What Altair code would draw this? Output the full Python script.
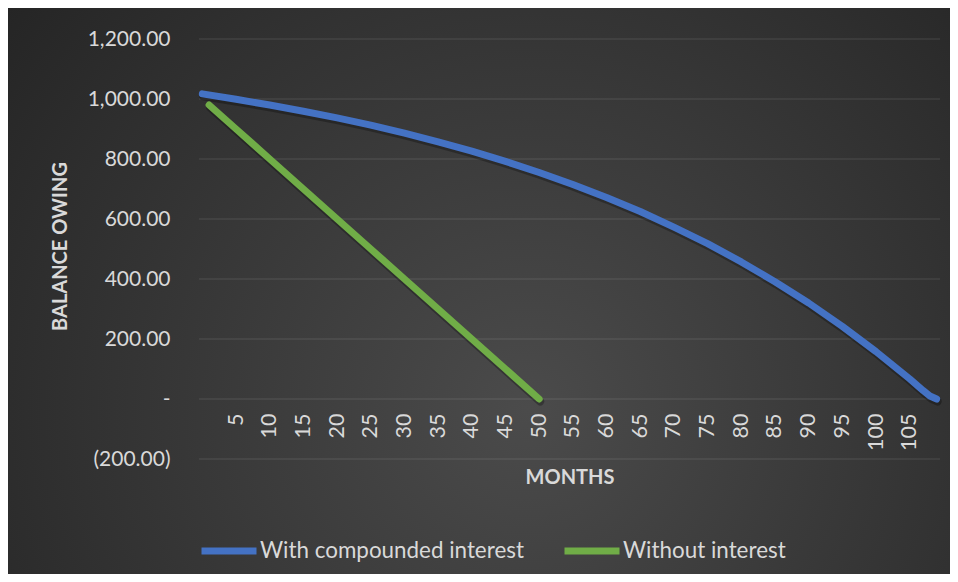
import altair as alt
import pandas as pd

# ---- data ----
series_names = ["With compounded interest", "Without interest"]

comp_months = [0, 5, 10, 15, 20, 25, 30, 35, 40, 45, 50, 55, 60, 65, 70, 75,
               80, 85, 90, 95, 100, 105, 107, 108, 109]
comp_balance = [1017, 999, 980, 959, 937, 913, 886, 857, 826, 792, 755, 715,
                672, 625, 573, 518, 457, 391, 320, 242, 158, 67, 28, 10, 0]

flat_months = [1, 5, 10, 15, 20, 25, 30, 35, 40, 45, 50]
flat_balance = [980, 900, 800, 700, 600, 500, 400, 300, 200, 100, 0]

x_ticks = [5, 10, 15, 20, 25, 30, 35, 40, 45, 50, 55, 60, 65, 70, 75, 80, 85,
           90, 95, 100, 105]
y_ticks = [-200, 0, 200, 400, 600, 800, 1000, 1200]

# ---- tables ----
lines_df = pd.concat([
    pd.DataFrame({"month": comp_months, "balance": comp_balance,
                  "series": series_names[0]}),
    pd.DataFrame({"month": flat_months, "balance": flat_balance,
                  "series": series_names[1]}),
])
grid_df = pd.DataFrame({"balance": y_ticks})
bg_df = pd.DataFrame({"a": [0]})

W, H = 741, 420
FONT = "Lato"
TXT = "#d9d9d9"

yscale = alt.Scale(domain=[-200, 1200], nice=False, zero=False)
xscale = alt.Scale(domain=[-0.5, 109.5], nice=False, zero=False)

ylabel_expr = ("datum.value == 0 ? '-' : (datum.value < 0 ? '(' + format(-datum.value, ',.2f') + ')'"
               " : format(datum.value, ',.2f'))")

y_axis = alt.Axis(
    values=y_ticks, labelExpr=ylabel_expr, labelFont=FONT, labelFontSize=21,
    labelColor=TXT, labelPadding=29, ticks=False, tickSize=0, domain=False,
    grid=False, zindex=1,
    title="BALANCE OWING", titleFont=FONT, titleFontSize=20,
    titleFontWeight="bold", titleColor=TXT, titleX=-139, titleY=207,
    titleBaseline="middle", titleAngle=270)

x_axis = alt.Axis(
    values=x_ticks, labelAngle=270, labelFont=FONT, labelFontSize=21.5,
    labelColor=TXT, labelPadding=14, ticks=False, tickSize=0, domain=False,
    grid=False, offset=-60, zindex=1, labelOverlap=False,
    title="MONTHS", titleFont=FONT, titleFontSize=20, titleFontWeight="bold",
    titleColor=TXT, titleY=78, titleBaseline="middle")

bg = alt.Chart(bg_df).mark_rect(
    fill={
        "gradient": "radial",
        "x1": 0.55, "y1": 0.62, "r1": 0,
        "x2": 0.55, "y2": 0.62, "r2": 0.72,
        "stops": [
            {"offset": 0, "color": "#4b4b4b"},
            {"offset": 1, "color": "#232323"},
        ],
    },
).encode(
    x=alt.value(-200), x2=alt.value(W + 20),
    y=alt.value(-40), y2=alt.value(H + 130),
)

grid = alt.Chart(grid_df).mark_rule(color="#ffffff", opacity=0.13, strokeWidth=1.2).encode(
    y=alt.Y("balance:Q", scale=yscale, axis=y_axis),
    x=alt.value(0), x2=alt.value(W),
)

shadow = alt.Chart(lines_df).mark_line(
    strokeWidth=8, strokeCap="round", strokeJoin="round", color="#000000",
    opacity=0.28, xOffset=1, yOffset=2.5
).encode(
    x=alt.X("month:Q", scale=xscale, axis=x_axis),
    y=alt.Y("balance:Q", scale=yscale, axis=y_axis),
    detail="series:N",
)

lines = alt.Chart(lines_df).mark_line(
    strokeWidth=7, strokeCap="round", strokeJoin="round"
).encode(
    x=alt.X("month:Q", scale=xscale, axis=x_axis),
    y=alt.Y("balance:Q", scale=yscale, axis=y_axis),
    color=alt.Color("series:N", scale=alt.Scale(domain=series_names,
                                                range=["#4472C4", "#70AD47"]),
                    legend=alt.Legend(
                        title=None, orient="none", direction="horizontal",
                        legendX=-1, legendY=481, symbolType="stroke",
                        symbolSize=3025, symbolStrokeWidth=7,
                        labelFont=FONT, labelFontSize=22.4, labelColor=TXT,
                        labelOffset=0, columnPadding=26, padding=0,
                        labelLimit=400)),
)

chart = alt.layer(bg, grid, shadow, lines).properties(
    width=W, height=H,
    autosize=alt.AutoSizeParams(type="none"),
    padding={"left": 191, "top": 31, "right": 10, "bottom": 115},
    background="#262626",
).configure_view(stroke=None)

chart.save("out.html", embed_options={"renderer": "svg", "actions": False})
